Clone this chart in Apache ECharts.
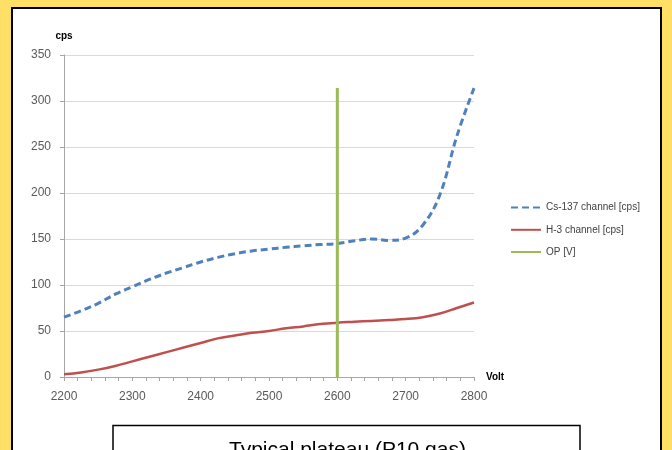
<!DOCTYPE html>
<html>
<head>
<meta charset="utf-8">
<script src="https://cdn.jsdelivr.net/npm/echarts@6/dist/echarts.min.js"></script>
<style>
html,body{margin:0;padding:0;background:#FFDF66;}
#chart{width:672px;height:450px;}
</style>
</head>
<body>
<div id="chart"></div>
<script>
var volts = [2200,2225,2250,2275,2300,2325,2350,2375,2400,2425,2450,2475,2500,2525,2550,2575,2600,2625,2650,2675,2700,2725,2750,2775,2800];
var cs137 = [65,72,80,90,98,106,113,119,125,130,134,137,139,141,142.5,144,145,148,150,148.5,151,165,198,262,314];
var h3 = [3,5,8,12,17,22,27,32,37,42,45,48,50,53,55,57.5,59,60,61,62,63,65,69,75,81];
var opVolt = [2600,2600];
var opValue = [0,314];
var xTicks = [2200,2300,2400,2500,2600,2700,2800];
var yTicks = [0,50,100,150,200,250,300,350];

function pairs(xs, ys){ return xs.map(function(x,i){ return [x, ys[i]]; }); }

var chart = echarts.init(document.getElementById('chart'), null, {renderer:'canvas'});
var labelFont = 'Liberation Sans, Arial, sans-serif';
chart.setOption({
  backgroundColor: '#FFDF66',
  animation: false,
  graphic: [
    {type:'rect', z:-10, shape:{x:12, y:8, width:649, height:460}, style:{fill:'#ffffff', stroke:'#000000', lineWidth:2}},
    {type:'rect', z:-5, shape:{x:113, y:425.5, width:467, height:40}, style:{fill:'#ffffff', stroke:'#000000', lineWidth:1.5}},
    {type:'text', z:-4, top:440, left:229, style:{text:'Typical plateau (P10 gas)', font:'21px Liberation Sans, Arial, sans-serif', fill:'#000000'}}
  ],
  grid: {left:64, right:198, top:55, bottom:73, containLabel:false},
  legend: {
    orient:'vertical', left:505, top:197, itemWidth:30, itemHeight:14, itemGap:11,
    itemStyle:{opacity:0},
    textStyle:{fontSize:10, color:'#404040', fontFamily:labelFont},
    data:['Cs-137 channel [cps]','H-3 channel [cps]','OP [V]']
  },
  xAxis: {
    type:'value', min:2200, max:2800, interval:20,
    name:'Volt', nameLocation:'end', nameGap:12,
    nameTextStyle:{fontWeight:'bold', fontSize:10, color:'#000', fontFamily:labelFont, verticalAlign:'middle'},
    axisLine:{show:true, lineStyle:{color:'#a6a6a6', width:1}},
    axisTick:{show:true, length:4, lineStyle:{color:'#a6a6a6'}},
    splitLine:{show:false},
    axisLabel:{margin:14, fontSize:12, color:'#595959', fontFamily:labelFont,
      formatter:function(v){ return xTicks.indexOf(v) >= 0 ? String(v) : ''; }}
  },
  yAxis: {
    type:'value', min:0, max:350, interval:50,
    name:'cps', nameLocation:'end', nameGap:14,
    nameTextStyle:{fontWeight:'bold', fontSize:10, color:'#000', fontFamily:labelFont, align:'center'},
    axisLine:{show:true, lineStyle:{color:'#a6a6a6', width:1}},
    axisTick:{show:true, length:4, lineStyle:{color:'#a6a6a6'}},
    splitLine:{show:true, lineStyle:{color:'#d9d9d9', width:1}},
    axisLabel:{margin:13, fontSize:12, color:'#595959', fontFamily:labelFont,
      formatter:function(v){ return yTicks.indexOf(v) >= 0 ? String(v) : ''; }}
  },
  series: [
    {name:'Cs-137 channel [cps]', type:'line', data:pairs(volts, cs137), smooth:0.4, symbol:'none',
      lineStyle:{color:'#4F81BD', width:3, type:[7,4]}, itemStyle:{color:'#4F81BD'}, z:2},
    {name:'H-3 channel [cps]', type:'line', data:pairs(volts, h3), smooth:0.4, symbol:'none',
      lineStyle:{color:'#C0504D', width:2.5}, itemStyle:{color:'#C0504D'}, z:2},
    {name:'OP [V]', type:'line', data:pairs(opVolt, opValue), symbol:'none',
      lineStyle:{color:'#9BBB59', width:3}, itemStyle:{color:'#9BBB59'}, z:3}
  ]
});
</script>
</body>
</html>
